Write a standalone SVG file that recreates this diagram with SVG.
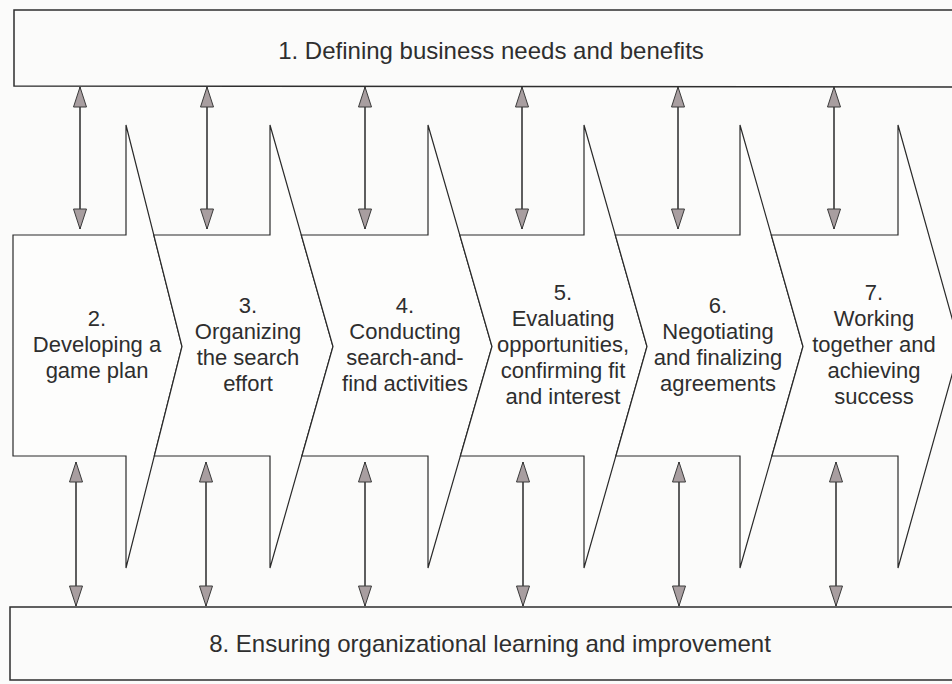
<svg xmlns="http://www.w3.org/2000/svg" width="952" height="684" viewBox="0 0 952 684">
  <style>
    .bg { fill: #fbfbfa; }
    .band { fill: #fbfbfa; stroke: #2e2e2e; stroke-width: 1.5; }
    .chev { fill: #fdfdfc; stroke: #2a2a2a; stroke-width: 1.2; stroke-linejoin: miter; }
    .lbl { font-family: "Liberation Sans", Arial, Helvetica, sans-serif; fill: #2e2e2e; text-anchor: middle; }
    .step { font-size: 22px; }
    .band-lbl { font-size: 24px; }
    .link { stroke: #2a2a2a; stroke-width: 1.5; fill: none; marker-start: url(#head); marker-end: url(#head); }
  </style>
  <defs>
    <marker id="head" markerUnits="userSpaceOnUse" markerWidth="22" markerHeight="15" viewBox="0 0 22 15" refX="21" refY="7.5" orient="auto-start-reverse">
      <path d="M1,1 L21,7.5 L1,14 Z" fill="#a89ea0" stroke="#3a3a3a" stroke-width="1"/>
    </marker>
  </defs>

  <rect class="bg" x="0" y="0" width="952" height="684"/>

  <!-- band 1: top bar -->
  <g id="node-1">
    <path class="band" d="M960,10 L14,10 L14,86 L960,87"/>
    <text class="lbl band-lbl" x="491" y="59">1. Defining business needs and benefits</text>
  </g>

  <!-- band 8: bottom bar -->
  <g id="node-8">
    <path class="band" d="M960,607 L10,607 L10,680 L960,680"/>
    <text class="lbl band-lbl" x="490" y="652">8. Ensuring organizational learning and improvement</text>
  </g>

  <!-- process chevrons 2-7 -->
  <g id="node-2">
    <polygon class="chev" points="13,235 126,235 126,125 182,346.5 126,568 126,456 13,456"/>
    <text class="lbl step" x="97" y="326">2.<tspan x="97" dy="26">Developing a</tspan><tspan x="97" dy="26">game plan</tspan></text>
  </g>
  <g id="node-3">
    <polygon class="chev" points="153.8,235 270,235 270,125 333,346.5 270,568 270,456 154.3,456 182,346.5"/>
    <text class="lbl step" x="248" y="313">3.<tspan x="248" dy="26">Organizing</tspan><tspan x="248" dy="26">the search</tspan><tspan x="248" dy="26">effort</tspan></text>
  </g>
  <g id="node-4">
    <polygon class="chev" points="301.3,235 428,235 428,125 492,346.5 428,568 428,456 301.9,456 333,346.5"/>
    <text class="lbl step" x="405" y="313">4.<tspan x="405" dy="26">Conducting</tspan><tspan x="405" dy="26">search-and-</tspan><tspan x="405" dy="26">find activities</tspan></text>
  </g>
  <g id="node-5">
    <polygon class="chev" points="459.8,235 584,235 584,125 647,346.5 584,568 584,456 460.4,456 492,346.5"/>
    <text class="lbl step" x="563" y="300">5.<tspan x="563" dy="26">Evaluating</tspan><tspan x="563" dy="26">opportunities,</tspan><tspan x="563" dy="26">confirming fit</tspan><tspan x="563" dy="26">and interest</tspan></text>
  </g>
  <g id="node-6">
    <polygon class="chev" points="615.3,235 740,235 740,125 803,346.5 740,568 740,456 615.9,456 647,346.5"/>
    <text class="lbl step" x="718" y="313">6.<tspan x="718" dy="26">Negotiating</tspan><tspan x="718" dy="26">and finalizing</tspan><tspan x="718" dy="26">agreements</tspan></text>
  </g>
  <g id="node-7">
    <polygon class="chev" points="771.3,235 898,235 898,125 960,346.5 898,568 898,456 771.9,456 803,346.5"/>
    <text class="lbl step" x="874" y="300">7.<tspan x="874" dy="26">Working</tspan><tspan x="874" dy="26">together and</tspan><tspan x="874" dy="26">achieving</tspan><tspan x="874" dy="26">success</tspan></text>
  </g>

  <!-- two-way links between the bars and the chevrons -->
  <g id="connectors">
    <line class="link" x1="80" y1="87" x2="80" y2="229"/>
    <line class="link" x1="207" y1="87" x2="207" y2="229"/>
    <line class="link" x1="365" y1="87" x2="365" y2="229"/>
    <line class="link" x1="522" y1="87" x2="522" y2="229"/>
    <line class="link" x1="678" y1="87" x2="678" y2="229"/>
    <line class="link" x1="834" y1="87" x2="834" y2="229"/>

    <line class="link" x1="76" y1="462" x2="76" y2="606"/>
    <line class="link" x1="206" y1="462" x2="206" y2="606"/>
    <line class="link" x1="365" y1="462" x2="365" y2="606"/>
    <line class="link" x1="523" y1="462" x2="523" y2="606"/>
    <line class="link" x1="679" y1="462" x2="679" y2="606"/>
    <line class="link" x1="836" y1="462" x2="836" y2="606"/>
  </g>
</svg>
